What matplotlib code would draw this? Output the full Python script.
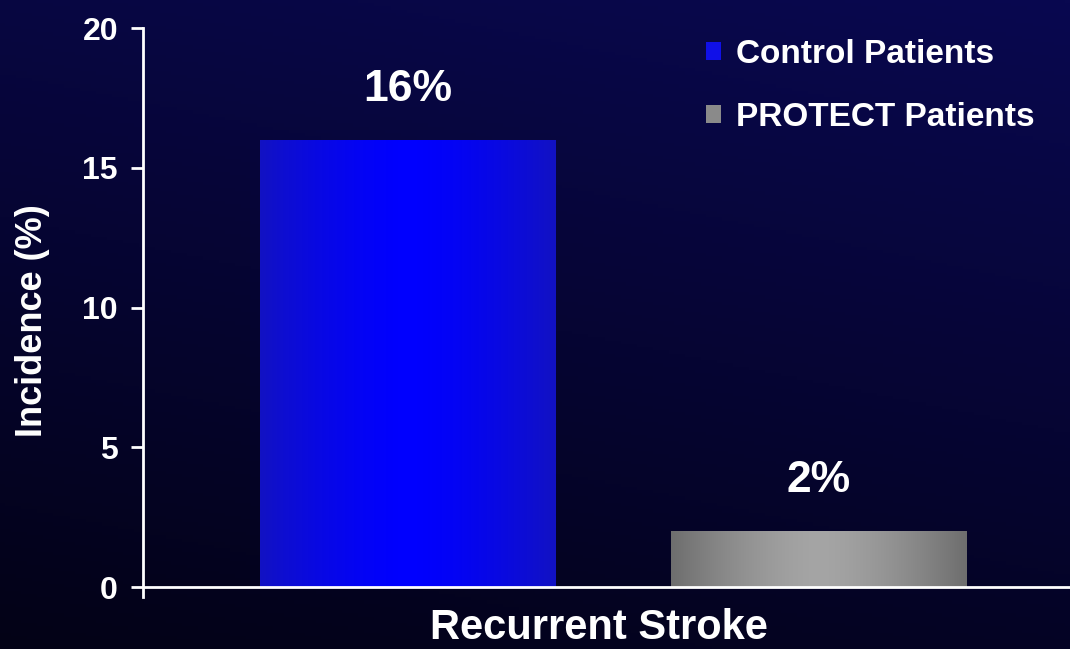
import numpy as np
import matplotlib
matplotlib.use("Agg")
import matplotlib.pyplot as plt

groups = ["Control Patients", "PROTECT Patients"]
incidence = [16, 2]
bar_labels = ["16%", "2%"]
yticks = [0, 5, 10, 15, 20]

plt.rcParams["font.family"] = ["Liberation Sans", "DejaVu Sans"]
plt.rcParams["font.weight"] = "bold"

fig = plt.figure(figsize=(10.7, 6.49), dpi=100)

# background: dark navy, lighter at top, near black at bottom-left
bg = fig.add_axes([0, 0, 1, 1], zorder=-10)
yy, xx = np.mgrid[0:1:200j, 0:1:200j]
t = np.clip(yy * 0.75 + xx * 0.25, 0, 1)
top = np.array([9, 8, 80]) / 255
bot = np.array([3, 2, 22]) / 255
img = bot + (top - bot) * t[..., None]
bg.imshow(img, origin="lower", extent=[0, 1, 0, 1], aspect="auto")
bg.axis("off")

ax = fig.add_axes([143 / 1070, 52 / 649, 1 - 143 / 1070, (621 - 52) / 649])
ax.patch.set_alpha(0)

pos = np.arange(len(groups))
width = 0.718
bars = ax.bar(pos, incidence, width=width, color="none", edgecolor="none")

edge_cols = [np.array([18, 18, 195]) / 255, np.array([110, 110, 110]) / 255]
mid_cols = [np.array([0, 0, 255]) / 255, np.array([165, 165, 165]) / 255]
for b, ec, mc in zip(bars, edge_cols, mid_cols):
    x0, y0 = b.get_x(), b.get_y()
    w, h = b.get_width(), b.get_height()
    s = 1 - np.abs(np.linspace(-1, 1, 256)) ** 1.5
    grad = ec + (mc - ec) * s[:, None]
    im = ax.imshow(grad[None, :, :], extent=[x0, x0 + w, y0, y0 + h],
                   aspect="auto", zorder=2)
    im.set_clip_path(b)

for x, v, lab in zip(pos, incidence, bar_labels):
    ax.annotate(lab, (x, v), xytext=(0, 21.5), textcoords="offset points",
                ha="center", va="bottom", color="white", fontsize=32,
                fontweight="bold")

ax.set_xlim(-0.6436, 1.612)
ax.set_ylim(-0.35, 20)
ax.set_yticks(yticks)
ax.set_xticks([])
ax.tick_params(axis="y", colors="white", labelsize=23, length=9, width=2, pad=9)
for lab in ax.get_yticklabels():
    lab.set_fontweight("bold")

ax.spines["left"].set_color("white")
ax.spines["left"].set_linewidth(2)
ax.spines["left"].set_bounds(-0.35, 20)
ax.spines["bottom"].set_position(("data", 0))
ax.spines["bottom"].set_color("white")
ax.spines["bottom"].set_linewidth(2)
ax.spines["top"].set_visible(False)
ax.spines["right"].set_visible(False)

fig.text(33 / 1070, 1 - 321 / 649, "Incidence (%)", rotation=90, color="white",
         fontsize=26, fontweight="bold", ha="center", va="center")
fig.text(599 / 1070, 1 / 649, "Recurrent Stroke", color="white", fontsize=30,
         fontweight="bold", ha="center", va="bottom")

# legend
leg = ax.legend(bars, groups, loc="upper left",
                bbox_to_anchor=(706 / 1070, 1 - 39 / 649),
                bbox_transform=fig.transFigure, frameon=False, fontsize=24,
                handlelength=0.45, handleheight=0.45, handletextpad=0.45,
                labelspacing=0.95, borderpad=0, borderaxespad=0)
for txt in leg.get_texts():
    txt.set_color("white")
    txt.set_fontweight("bold")
for h, c in zip(leg.legend_handles, ["#1010e8", "#8a8a8a"]):
    h.set_facecolor(c)

fig.savefig("out.png", dpi=100)
